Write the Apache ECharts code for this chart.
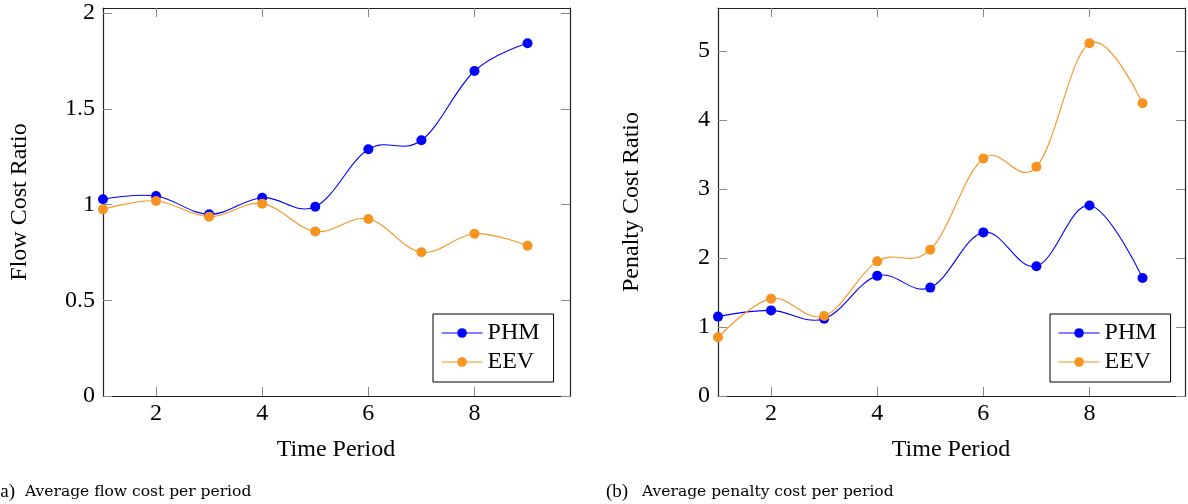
<!DOCTYPE html>
<html><head><meta charset="utf-8">
<script src="https://cdn.jsdelivr.net/npm/echarts@6/dist/echarts.min.js"></script>
<style>html,body{margin:0;padding:0;background:#fff}#c{width:1188px;height:504px}</style>
</head><body><div id="c"></div>
<script>
const periods = [1, 2, 3, 4, 5, 6, 7, 8, 9];
const flowPHM = [1.028, 1.045, 0.949, 1.036, 0.989, 1.289, 1.336, 1.698, 1.843];
const flowEEV = [0.975, 1.019, 0.937, 1.005, 0.860, 0.925, 0.751, 0.848, 0.785];
const penaltyPHM = [1.15, 1.24, 1.12, 1.74, 1.57, 2.37, 1.88, 2.76, 1.71];
const penaltyEEV = [0.85, 1.41, 1.16, 1.95, 2.12, 3.44, 3.32, 5.11, 4.24];
const xTicks = [2, 4, 6, 8];
const flowTicks = [0, 0.5, 1, 1.5, 2];
const penaltyTicks = [0, 1, 2, 3, 4, 5];
const seriesNames = ['PHM', 'EEV'];
const xTitle = 'Time Period';
const yTitles = ['Flow Cost Ratio', 'Penalty Cost Ratio'];
const captionTags = ['(a)', '(b)'];
const captionTexts = ['Average flow cost per period', 'Average penalty cost per period'];

const FONT = 'Liberation Serif';
const BLUE = '#0000ff', ORANGE = '#f7931e';
const TENSION = 0.55 / 3;
const pairs = a => periods.map((p, i) => [p, a[i]]);

const gridDefs = [
  { left: 103, top: 8, width: 467, height: 388, ymax: 2.027, ticks: flowTicks },
  { left: 718, top: 8, width: 467, height: 388, ymax: 5.62, ticks: penaltyTicks }
];

const lineCol = '#222', tickCol = '#8a8a8a';
const xAxes = [], yAxes = [];
gridDefs.forEach((g, gi) => {
  ['bottom', 'top'].forEach(pos => {
    xAxes.push({
      type: 'value', gridIndex: gi, position: pos, min: 1, max: 9.8,
      axisLine: { show: true, onZero: false, lineStyle: { color: lineCol, width: 1.2 } },
      axisTick: { show: true, inside: true, length: 9, customValues: xTicks, lineStyle: { color: tickCol, width: 1 } },
      axisLabel: { show: pos === 'bottom', customValues: xTicks, color: '#000', fontFamily: FONT, fontSize: 24, margin: 6 },
      splitLine: { show: false }
    });
  });
  ['left', 'right'].forEach(pos => {
    yAxes.push({
      type: 'value', gridIndex: gi, position: pos, min: 0, max: g.ymax,
      axisLine: { show: true, onZero: false, lineStyle: { color: lineCol, width: 1.2 } },
      axisTick: { show: true, inside: true, length: 9, customValues: g.ticks, lineStyle: { color: tickCol, width: 1 } },
      axisLabel: { show: pos === 'left', customValues: g.ticks, color: '#000', fontFamily: FONT, fontSize: 24, margin: 8 },
      splitLine: { show: false }
    });
  });
});

// smooth curve (TikZ-style "plot smooth") drawn through the axes' own coordinate mapping
function mkCurve(values, color, gi) {
  return {
    type: 'custom', xAxisIndex: gi * 2, yAxisIndex: gi * 2, z: 2, silent: true,
    data: pairs(values).slice(0, -1),
    renderItem: function (params, api) {
      const i = params.dataIndex;
      const pts = periods.map((p, k) => api.coord([p, values[k]]));
      const p0 = pts[i], p1 = pts[i + 1];
      const prev = pts[i - 1], next = pts[i + 2];
      let c1 = p0, c2 = p1;
      if (prev) c1 = [p0[0] + TENSION * (p1[0] - prev[0]), p0[1] + TENSION * (p1[1] - prev[1])];
      if (next) c2 = [p1[0] - TENSION * (next[0] - p0[0]), p1[1] - TENSION * (next[1] - p0[1])];
      return {
        type: 'bezierCurve',
        shape: { x1: p0[0], y1: p0[1], x2: p1[0], y2: p1[1], cpx1: c1[0], cpy1: c1[1], cpx2: c2[0], cpy2: c2[1] },
        style: { stroke: color, fill: null, lineWidth: 1.1 }
      };
    },
    animation: false
  };
}
function mkMarks(name, values, color, gi) {
  return {
    type: 'line', name: name, xAxisIndex: gi * 2, yAxisIndex: gi * 2, z: 2,
    data: pairs(values), symbol: 'circle', symbolSize: 10, showSymbol: true,
    lineStyle: { color: color, width: 1, opacity: 0 }, itemStyle: { color: color },
    animation: false, emphasis: { disabled: true }
  };
}

const series = [
  mkCurve(flowPHM, BLUE, 0), mkMarks(seriesNames[0], flowPHM, BLUE, 0),
  mkCurve(flowEEV, ORANGE, 0), mkMarks(seriesNames[1], flowEEV, ORANGE, 0),
  mkCurve(penaltyPHM, BLUE, 1), mkMarks(seriesNames[0], penaltyPHM, BLUE, 1),
  mkCurve(penaltyEEV, ORANGE, 1), mkMarks(seriesNames[1], penaltyEEV, ORANGE, 1)
];

function mkLegend(left) {
  return {
    data: [
      { name: seriesNames[0], lineStyle: { color: BLUE, width: 1.1, opacity: 1 } },
      { name: seriesNames[1], lineStyle: { color: ORANGE, width: 1.1, opacity: 1 } }
    ],
    left: left, top: 314, orient: 'vertical', selectedMode: false,
    backgroundColor: '#fff', borderColor: '#000', borderWidth: 1,
    padding: [7, 14, 8, 8], itemGap: 5, itemWidth: 41, itemHeight: 12,
    textStyle: { fontFamily: FONT, fontSize: 24, color: '#000', lineHeight: 24 }
  };
}

const graphics = [];
function txt(x, y, text, font, align, vAlign, rot) {
  graphics.push({
    type: 'text', x: x, y: y, rotation: rot || 0, silent: true,
    style: { text: text, font: font, fill: '#000', align: align, verticalAlign: vAlign, textAlign: align, textVerticalAlign: vAlign }
  });
}
txt(336, 450, xTitle, '24px "Liberation Serif"', 'center', 'middle');
txt(951, 450, xTitle, '24px "Liberation Serif"', 'center', 'middle');
txt(20, 202, yTitles[0], '24px "Liberation Serif"', 'center', 'middle', Math.PI / 2);
txt(632, 202, yTitles[1], '24px "Liberation Serif"', 'center', 'middle', Math.PI / 2);
txt(-6, 492, captionTags[0], '19px "Liberation Serif"', 'left', 'middle');
txt(25, 492, captionTexts[0], '15.5px "DejaVu Serif"', 'left', 'middle');
txt(606, 492, captionTags[1], '19px "Liberation Serif"', 'left', 'middle');
txt(642, 492, captionTexts[1], '15.5px "DejaVu Serif"', 'left', 'middle');

const chart = echarts.init(document.getElementById('c'), null, { renderer: 'canvas' });
chart.setOption({
  animation: false,
  backgroundColor: '#fff',
  grid: gridDefs.map(g => ({ left: g.left, top: g.top, width: g.width, height: g.height, containLabel: false })),
  xAxis: xAxes,
  yAxis: yAxes,
  legend: [mkLegend(433), mkLegend(1050)],
  series: series,
  graphic: graphics
});
</script>
</body></html>
